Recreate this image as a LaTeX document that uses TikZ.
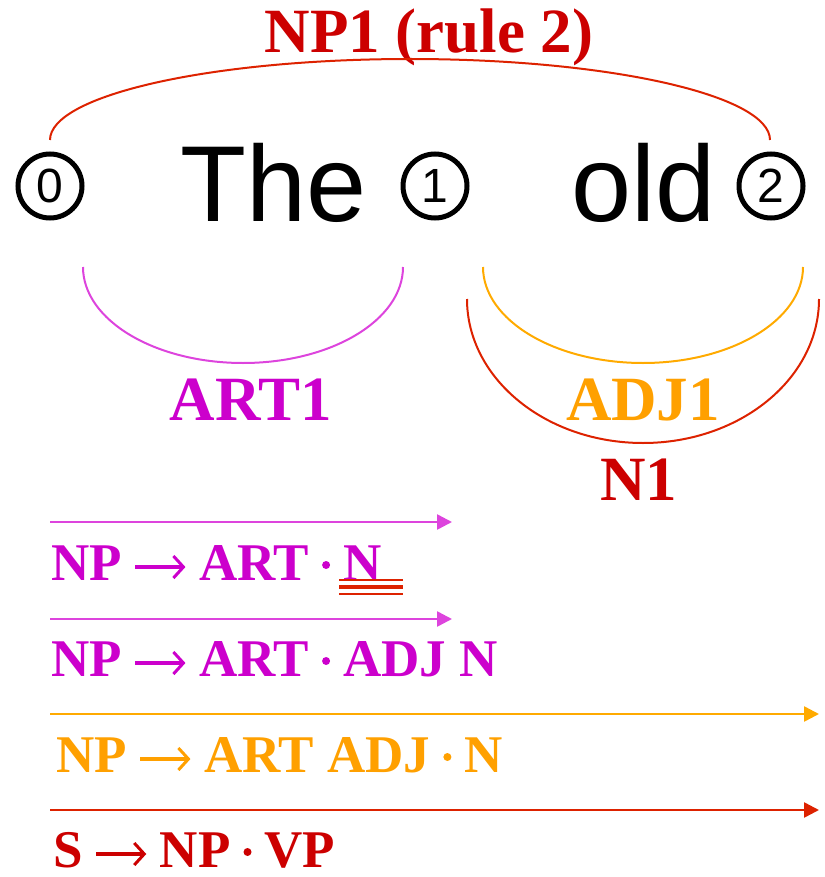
\documentclass[tikz,border=0pt]{standalone}
\usepackage{fontspec}
\setmainfont{Liberation Serif}
\newfontfamily\arialf{Liberation Sans}
\usetikzlibrary{arrows.meta}
\definecolor{magT}{HTML}{CC00CC}
\definecolor{magL}{HTML}{DD44DD}
\definecolor{orT}{HTML}{FFA000}
\definecolor{orL}{HTML}{FFAA00}
\definecolor{redT}{HTML}{CC0000}
\definecolor{redL}{HTML}{DD2200}
\newcommand{\arr}{\hspace{12pt}\tikz[baseline=0pt]\draw[line width=3.2pt,-{Straight Barb[length=10pt,width=22pt,line width=3pt]}] (0pt,13pt) -- (50pt,13pt);\hspace{12pt}}
\newcommand{\dotsep}{\hspace{13pt}\tikz[baseline=0pt]{\path (-4pt,0pt) rectangle (4pt,1pt); \fill (0pt,15pt) circle[radius=4pt];}\hspace{13pt}}
\tikzset{
  lbl/.style={inner sep=0pt, anchor=base, font=\fontsize{63}{70}\selectfont\bfseries},
  rulel/.style={inner sep=0pt, anchor=base west, font=\fontsize{53}{60}\selectfont\bfseries},
  word/.style={inner sep=0pt, anchor=base, font=\arialf\fontsize{108}{120}\selectfont},
  posnode/.style={circle, draw, line width=5pt, minimum size=64pt, inner sep=0pt, font=\arialf\fontsize{48}{48}\selectfont},
  arcl/.style={line width=2pt},
  edgeln/.style={line width=2.5pt, -{Triangle[length=15pt,width=15pt]}}
}
\begin{document}
\begin{tikzpicture}[x=1pt,y=1pt]
\useasboundingbox (0,0) rectangle (824,-877);
% top label and arc
\node[lbl, text=redT] (np1) at (429,-53) {NP1 (rule 2)};
\coordinate (np1s) at (50,-140);
\draw[arcl, redL] (np1s) arc[start angle=180, end angle=0, x radius=360pt, y radius=81pt] coordinate (np1e);
% positions and words
\node[posnode] (c0) at (50,-186) {\raisebox{-4pt}{0}};
\node[posnode] (c1) at (435,-186) {\raisebox{-4pt}{1}};
\node[posnode] (c2) at (771,-186) {\raisebox{-4pt}{2}};
\node[word] (the) at (274,-222) {The};
\node[word] (old) at (644,-222) {old};
% lower arcs
\coordinate (arts) at (83,-267);
\draw[arcl, magL] (arts) arc[start angle=180, end angle=360, x radius=160pt, y radius=96pt] coordinate (arte);
\coordinate (adjs) at (483,-267);
\draw[arcl, orL] (adjs) arc[start angle=180, end angle=360, x radius=160pt, y radius=96pt] coordinate (adje);
\coordinate (ns) at (467,-299);
\draw[arcl, redL] (ns) arc[start angle=180, end angle=360, x radius=176pt, y radius=144pt] coordinate (ne);
\node[lbl, text=magT] (art1) at (251,-420) {ART1};
\node[lbl, text=orT] (adj1) at (643,-420) {ADJ1};
\node[lbl, text=redT] (n1) at (639,-500) {N1};
% active arcs
\coordinate (e1s) at (50,-522); \coordinate (e1e) at (452,-522);
\draw[edgeln, magL] (e1s) -- (e1e);
\node[rulel, text=magT] (r1) at (51,-580) {NP\arr ART\dotsep N};
\coordinate (u1s) at (339,-580); \coordinate (u1e) at (403,-580);
\coordinate (u2s) at (339,-587); \coordinate (u2e) at (403,-587);
\coordinate (u3s) at (339,-593.5); \coordinate (u3e) at (403,-593.5);
\draw[redL, line width=2pt] (u1s) -- (u1e);
\draw[redL, line width=3.5pt] (u2s) -- (u2e);
\draw[redL, line width=2pt] (u3s) -- (u3e);
\coordinate (e2s) at (50,-619); \coordinate (e2e) at (452,-619);
\draw[edgeln, magL] (e2s) -- (e2e);
\node[rulel, text=magT] (r2) at (51,-676) {NP\arr ART\dotsep ADJ N};
\coordinate (e3s) at (50,-714); \coordinate (e3e) at (819,-714);
\draw[edgeln, orL] (e3s) -- (e3e);
\node[rulel, text=orT] (r3) at (56,-772) {NP\arr ART ADJ\dotsep N};
\coordinate (e4s) at (50,-810); \coordinate (e4e) at (819,-810);
\draw[edgeln, redL] (e4s) -- (e4e);
\node[rulel, text=redT] (r4) at (53,-867) {S\arr NP\dotsep VP};
\end{tikzpicture}
\end{document}
